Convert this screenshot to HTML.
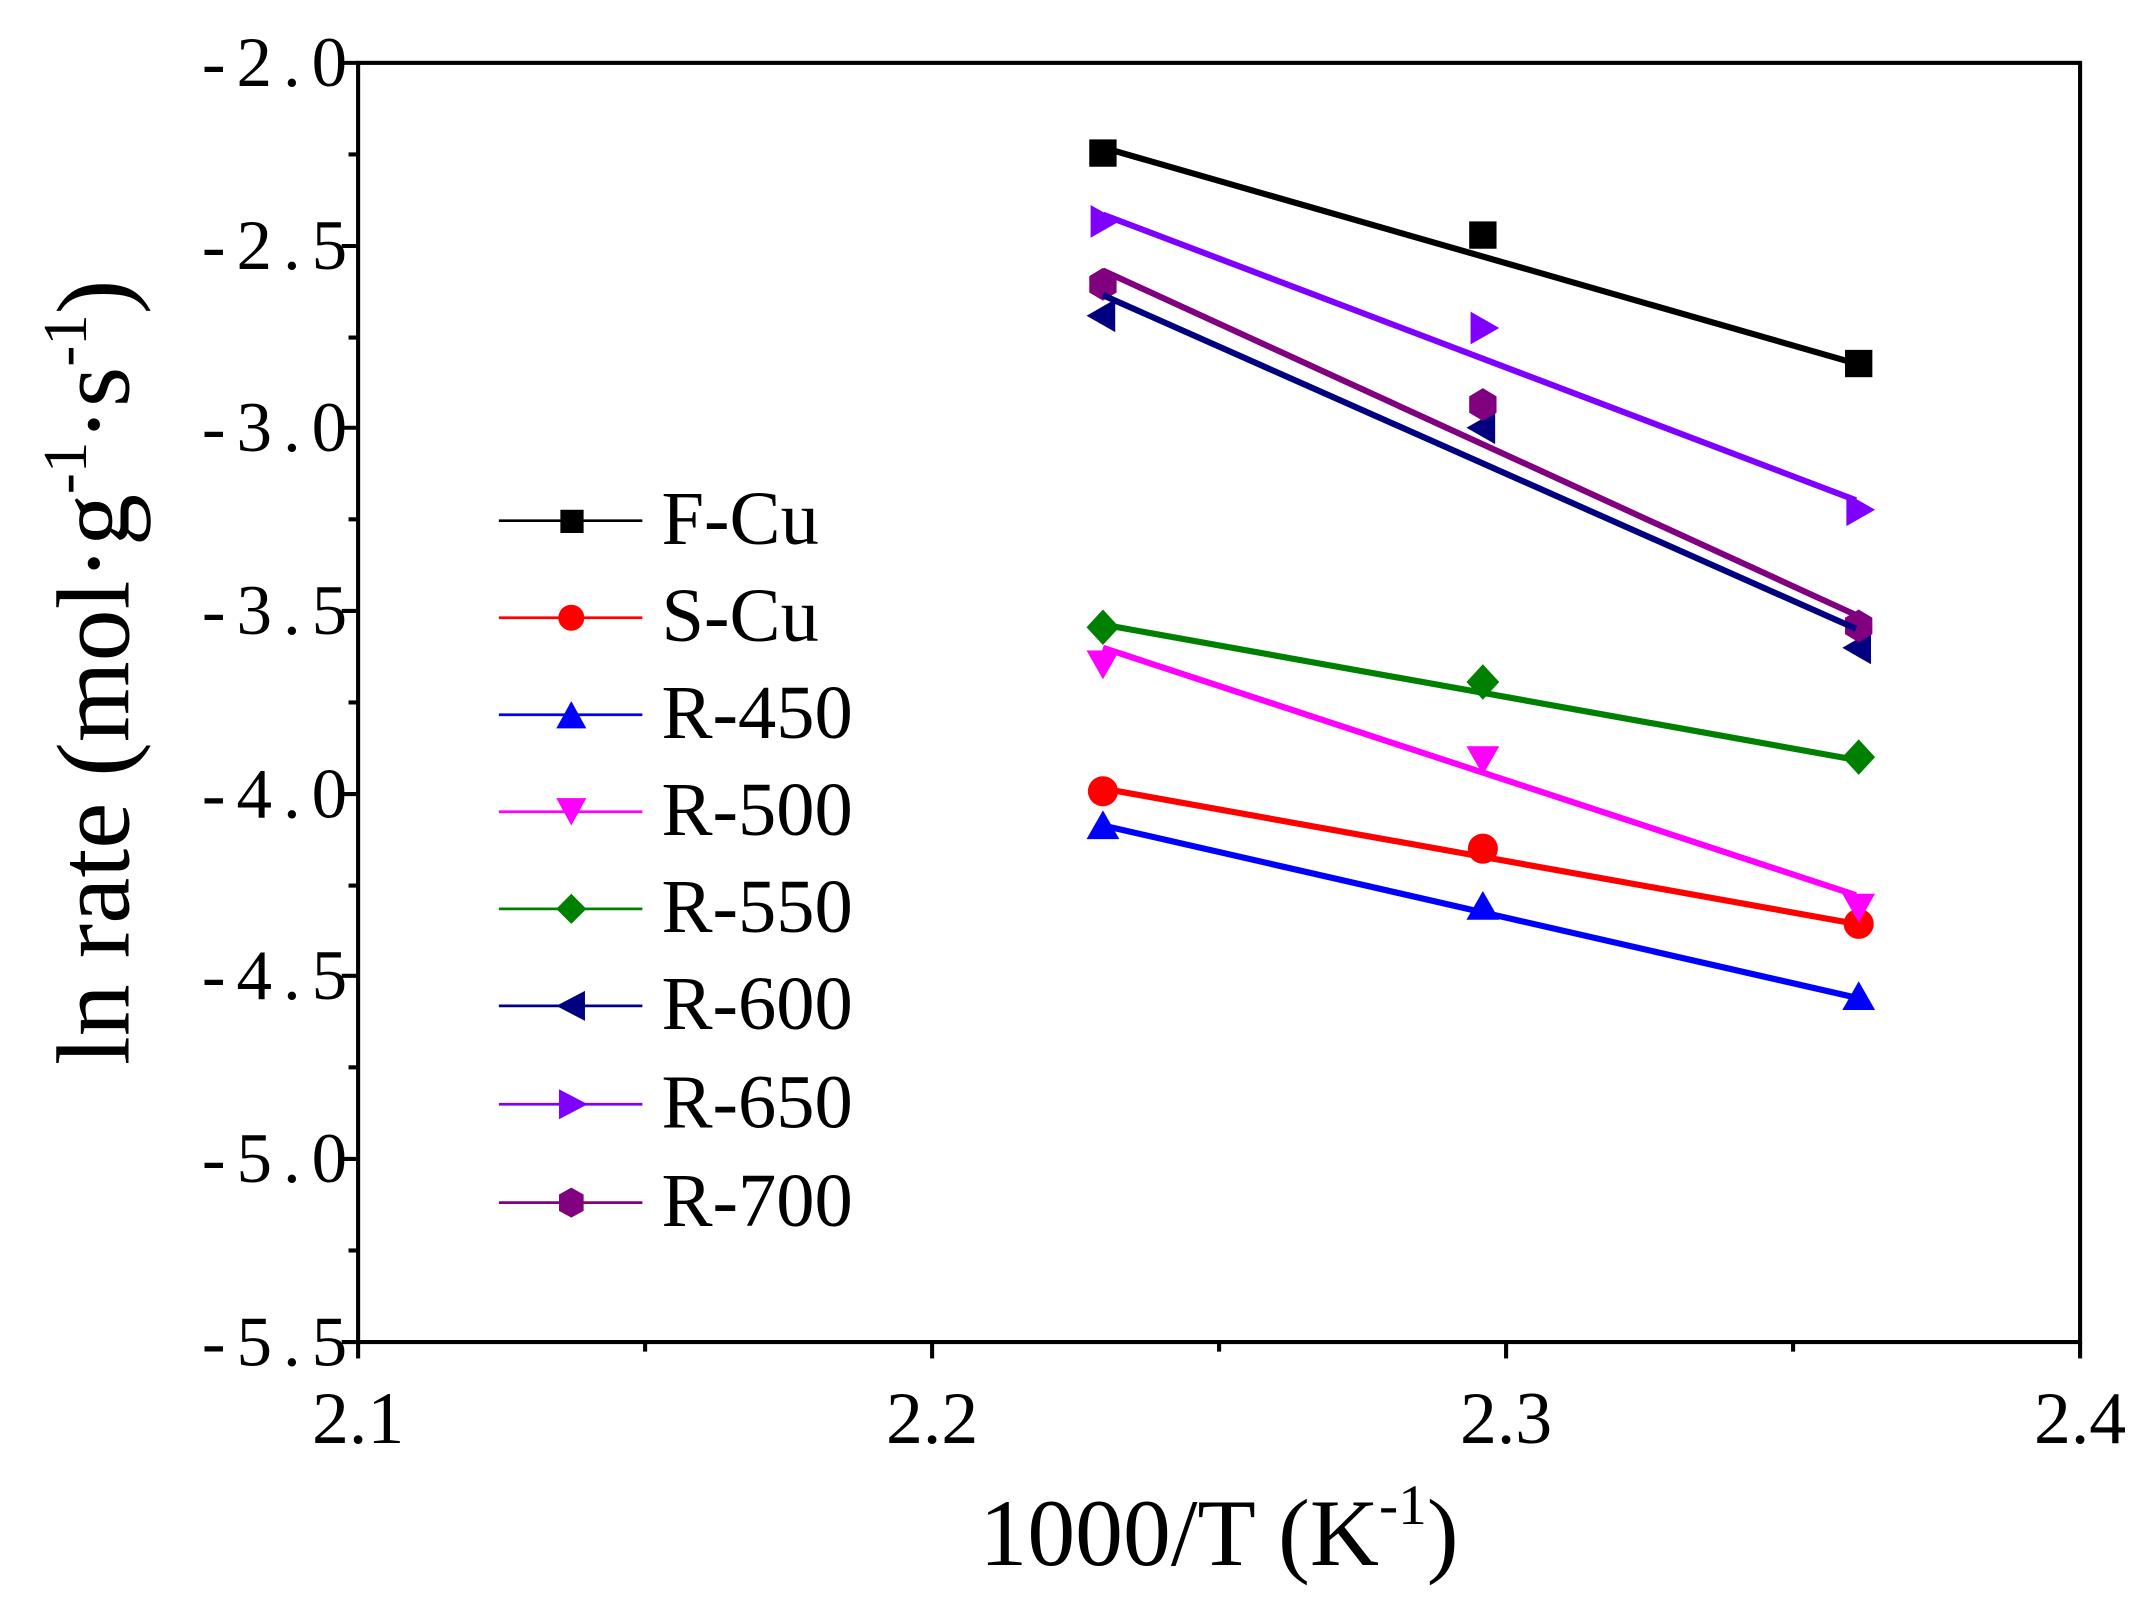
<!DOCTYPE html>
<html><head><meta charset="utf-8"><style>html,body{margin:0;padding:0;background:#fff}svg{display:block}</style></head>
<body>
<svg width="2143" height="1608" viewBox="0 0 1568 1176.6" xmlns="http://www.w3.org/2000/svg" font-family="Liberation Serif, serif">
<rect x="262" y="46" width="1260" height="936" fill="none" stroke="#000" stroke-width="3"/>
<g stroke="#000" stroke-width="3">
<line x1="250" y1="46" x2="262" y2="46"/><line x1="250" y1="180" x2="262" y2="180"/><line x1="250" y1="313" x2="262" y2="313"/><line x1="250" y1="447" x2="262" y2="447"/><line x1="250" y1="581" x2="262" y2="581"/><line x1="250" y1="714" x2="262" y2="714"/><line x1="250" y1="848" x2="262" y2="848"/><line x1="250" y1="982" x2="262" y2="982"/>
<line x1="255" y1="113" x2="262" y2="113"/><line x1="255" y1="247" x2="262" y2="247"/><line x1="255" y1="380" x2="262" y2="380"/><line x1="255" y1="514" x2="262" y2="514"/><line x1="255" y1="648" x2="262" y2="648"/><line x1="255" y1="781" x2="262" y2="781"/><line x1="255" y1="915" x2="262" y2="915"/>
<line x1="262" y1="982" x2="262" y2="994"/><line x1="682" y1="982" x2="682" y2="994"/><line x1="1102" y1="982" x2="1102" y2="994"/><line x1="1522" y1="982" x2="1522" y2="994"/>
<line x1="472" y1="982" x2="472" y2="989"/><line x1="892" y1="982" x2="892" y2="989"/><line x1="1312" y1="982" x2="1312" y2="989"/>
</g>
<g font-size="52" text-anchor="end" letter-spacing="8">
<text x="262" y="63">-2.0</text><text x="262" y="197">-2.5</text><text x="262" y="330">-3.0</text><text x="262" y="464">-3.5</text><text x="262" y="598">-4.0</text><text x="262" y="731">-4.5</text><text x="262" y="865">-5.0</text><text x="262" y="999">-5.5</text>
</g>
<g font-size="54" text-anchor="middle">
<text x="262" y="1056">2.1</text><text x="682" y="1056">2.2</text><text x="1102" y="1056">2.3</text><text x="1522" y="1056">2.4</text>
</g>
<text x="892" y="1145" font-size="70" text-anchor="middle">1000/T (K<tspan font-size="42" dy="-30">-1</tspan><tspan dy="30">)</tspan></text>
<text transform="translate(94,492) rotate(-90)" font-size="76" text-anchor="middle">ln rate (mol·g<tspan font-size="46" dy="-31">-1</tspan><tspan dy="31">·s</tspan><tspan font-size="46" dy="-31">-1</tspan><tspan dy="31">)</tspan></text>

<g fill="#000"><rect x="797" y="102" width="20" height="20"/><rect x="1075" y="162" width="20" height="20"/><rect x="1350" y="256" width="20" height="20"/></g>
<g fill="#ff0000"><circle cx="807" cy="579" r="11"/><circle cx="1085" cy="621" r="11"/><circle cx="1360" cy="676" r="11"/></g>
<g fill="#0000ff"><polygon points="807,593 795,614 819,614"/><polygon points="1085,652 1073,673 1097,673"/><polygon points="1360,718 1348,739 1372,739"/></g>
<g fill="#ff00ff"><polygon points="807,497 795,476 819,476"/><polygon points="1085,567 1073,546 1097,546"/><polygon points="1360,675 1348,654 1372,654"/></g>
<g fill="#008000"><polygon points="807,446 819,459 807,472 795,459"/><polygon points="1085,486 1097,499 1085,512 1073,499"/><polygon points="1360,541 1372,554 1360,567 1348,554"/></g>
<g fill="#000080"><polygon points="795,231 816,219 816,243"/><polygon points="1073,313 1094,301 1094,325"/><polygon points="1348,474 1369,462 1369,486"/></g>
<g fill="#8000ff"><polygon points="819,162 798,150 798,174"/><polygon points="1097,240 1076,228 1076,252"/><polygon points="1372,373 1351,361 1351,385"/></g>
<g fill="#800080"><polygon points="807,196 817,202 817,214 807,220 797,214 797,202"/><polygon points="1085,284 1095,290 1095,302 1085,308 1075,302 1075,290"/><polygon points="1360,446 1370,452 1370,464 1360,470 1350,464 1350,452"/></g>

<g stroke-width="4.5" fill="none">
<line x1="807" y1="108" x2="1358" y2="266" stroke="#000"/>
<line x1="807" y1="577" x2="1358" y2="676" stroke="#ff0000"/>
<line x1="807" y1="604" x2="1358" y2="730" stroke="#0000ff"/>
<line x1="807" y1="474" x2="1358" y2="655" stroke="#ff00ff"/>
<line x1="807" y1="457" x2="1358" y2="556" stroke="#008000"/>
<line x1="807" y1="216" x2="1358" y2="460" stroke="#000080"/>
<line x1="807" y1="157" x2="1358" y2="366" stroke="#8000ff"/>
<line x1="807" y1="198" x2="1358" y2="450" stroke="#800080"/>
</g>

<g stroke-width="2">
<line x1="365" y1="381" x2="470" y2="381" stroke="#000"/>
<line x1="365" y1="452" x2="470" y2="452" stroke="#ff0000"/>
<line x1="365" y1="523" x2="470" y2="523" stroke="#0000ff"/>
<line x1="365" y1="594" x2="470" y2="594" stroke="#ff00ff"/>
<line x1="365" y1="665" x2="470" y2="665" stroke="#008000"/>
<line x1="365" y1="736" x2="470" y2="736" stroke="#000080"/>
<line x1="365" y1="808" x2="470" y2="808" stroke="#8000ff"/>
<line x1="365" y1="880" x2="470" y2="880" stroke="#800080"/>
</g>
<rect x="410" y="373" width="17" height="17" fill="#000"/>
<circle cx="418" cy="452" r="9.5" fill="#ff0000"/>
<polygon points="418,513 407,533 429,533" fill="#0000ff"/>
<polygon points="418,604 407,584 429,584" fill="#ff00ff"/>
<polygon points="418,654 429,665 418,676 407,665" fill="#008000"/>
<polygon points="407,736 428,725 428,747" fill="#000080"/>
<polygon points="430,808 409,797 409,819" fill="#8000ff"/>
<polygon points="418,869 427,874 427,886 418,891 409,886 409,874" fill="#800080"/>
<g font-size="56">
<text x="484" y="398">F-Cu</text>
<text x="484" y="469">S-Cu</text>
<text x="484" y="540">R-450</text>
<text x="484" y="611">R-500</text>
<text x="484" y="682">R-550</text>
<text x="484" y="753">R-600</text>
<text x="484" y="825">R-650</text>
<text x="484" y="897">R-700</text>
</g>
</svg>
</body></html>
